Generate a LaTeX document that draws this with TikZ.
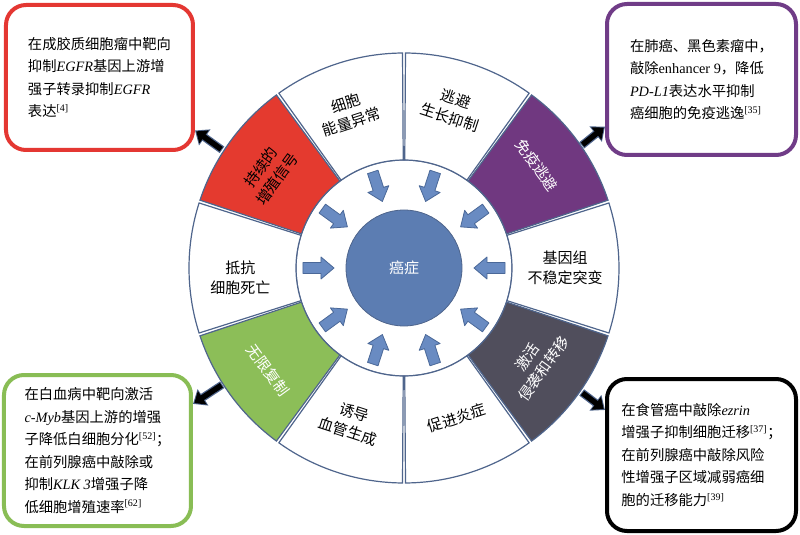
\documentclass[tikz,border=0pt]{standalone}
\usepackage{fontspec}
\usetikzlibrary{arrows.meta}
\newfontfamily\cjk{Noto Sans CJK SC}
\newfontfamily\lat{Liberation Serif}
\newcommand\gn[1]{{\lat\itshape #1}}
\newcommand\rf[1]{\textsuperscript{\lat[#1]}}
\definecolor{ringline}{RGB}{79,101,140}
\definecolor{corefill}{RGB}{92,125,178}
\definecolor{arrfill}{RGB}{105,139,194}
\definecolor{arrline}{RGB}{74,104,152}
\definecolor{segred}{RGB}{228,58,47}
\definecolor{segpurple}{RGB}{112,56,128}
\definecolor{seggreen}{RGB}{140,190,88}
\definecolor{segdark}{RGB}{80,78,92}
\definecolor{boxred}{RGB}{228,55,50}
\definecolor{boxpurple}{RGB}{112,60,135}
\definecolor{boxgreen}{RGB}{137,189,85}
\begin{document}
\begin{tikzpicture}[x=1pt,y=1pt,
    seg/.style={draw=ringline,line width=1.2pt},
    inarrow/.style={draw=arrline,fill=arrfill,line width=0.8pt,line join=round},
    hall/.style={align=center,font=\cjk\fontsize{15}{20}\selectfont},
    note/.style={draw,line width=4pt,rounded corners=20pt,fill=white,align=left,
                 inner sep=0pt,font=\cjk\fontsize{14.3}{22.5}\selectfont},
    linkout/.style={draw=ringline,line width=8pt,-{Triangle[width=19pt,length=12pt]}},
    linkin/.style={draw=black,line width=5.5pt,-{Triangle[width=15.5pt,length=9.5pt]},
                   shorten >=1.6pt,shorten <=1pt}]
\useasboundingbox (-404,-267) rectangle (396,268);

% inner ring and core
\draw[seg,fill=white] (0,0) circle[radius=108];
\node[circle,fill=corefill,draw=ringline,line width=0.8pt,minimum size=116pt,
      text=white,font=\cjk\fontsize{15}{18}\selectfont] (core) at (0,0) {癌症};

% ten hallmark segments
\foreach \a/\f/\c/\r/\ta/\d/\txt/\n in {
    108/white/black/18/109.6/165/{细胞\\能量异常}/s1,
    72/white/black/-18/73/167/{逃避\\生长抑制}/s2,
    36/segpurple/white/-54/37.8/168/{免疫逃避}/s3,
    0/white/black/0/0/161/{基因组\\不稳定突变}/s4,
    -36/segdark/white/54/-35.8/162/{激活\\侵袭和转移}/s5,
    -72/white/black/18/-70.7/159/{促进炎症}/s6,
    -108/white/black/-18/-109/163/{诱导\\血管生成}/s7,
    -144/seggreen/white/-54/-143/170/{无限复制}/s8,
    180/white/black/0/183.5/164/{抵抗\\细胞死亡}/s9,
    144/segred/black/54/144.9/165/{持续的\\增殖信号}/s10}{
  \draw[seg,fill=\f] (\a-17.6:108) arc[start angle=\a-17.6,end angle=\a+17.6,radius=108]
     -- (\a+17.6:215) arc[start angle=\a+17.6,end angle=\a-17.6,radius=215] -- cycle;
  \node[hall,rotate=\r,text=\c] (\n) at (\ta:\d) {\txt};
}

% arrows into the core
\foreach \a in {0,36,...,324}
  \draw[inarrow,shift={(\a:101)},rotate=\a+180]
    (0,-5.5) -- (18,-5.5) -- (18,-11) -- (31,0) -- (18,11) -- (18,5.5) -- (0,5.5) -- cycle;

% notes
\node[note,draw=boxred,minimum width=187pt,minimum height=145pt] (rbox) at (-304.5,190.5)
  {在成胶质细胞瘤中靶向\\抑制\gn{EGFR}基因上游增\\强子转录抑制\gn{EGFR}\\表达\rf{4}};
\node[note,draw=boxpurple,minimum width=189pt,minimum height=151pt] (pbox) at (297.5,188.5)
  {在肺癌、黑色素瘤中，\\敲除{\lat enhancer 9}，降低\\\gn{PD-L1}表达水平抑制\\癌细胞的免疫逃逸\rf{35}};
\node[note,draw=boxgreen,minimum width=187pt,minimum height=151pt] (gbox) at (-306.5,-182.5)
  {在白血病中靶向激活\\\gn{c-Myb}基因上游的增强\\子降低白细胞分化\rf{52}；\\在前列腺癌中敲除或\\抑制\gn{KLK 3}增强子降\\低细胞增殖速率\rf{62}};
\node[note,draw=black,minimum width=189pt,minimum height=152pt] (kbox) at (297.5,-187)
  {在食管癌中敲除\gn{ezrin}\\增强子抑制细胞迁移\rf{37}；\\在前列腺癌中敲除风险\\性增强子区域减弱癌细\\胞的迁移能力\rf{39}};

% links from segments to notes
\coordinate (rt) at (147:217);
\coordinate (pt) at (34.6:216);
\coordinate (gt) at (212.7:216);
\coordinate (kt) at (-35:217);
\draw[linkout] (rt) -- (rbox.-29);   \draw[linkin] (rt) -- (rbox.-29);
\draw[linkout] (pt) -- (pbox.206);   \draw[linkin] (pt) -- (pbox.206);
\draw[linkout] (gt) -- (gbox.26);    \draw[linkin] (gt) -- (gbox.26);
\draw[linkout] (kt) -- (kbox.155);   \draw[linkin] (kt) -- (kbox.155);
\end{tikzpicture}
\end{document}
